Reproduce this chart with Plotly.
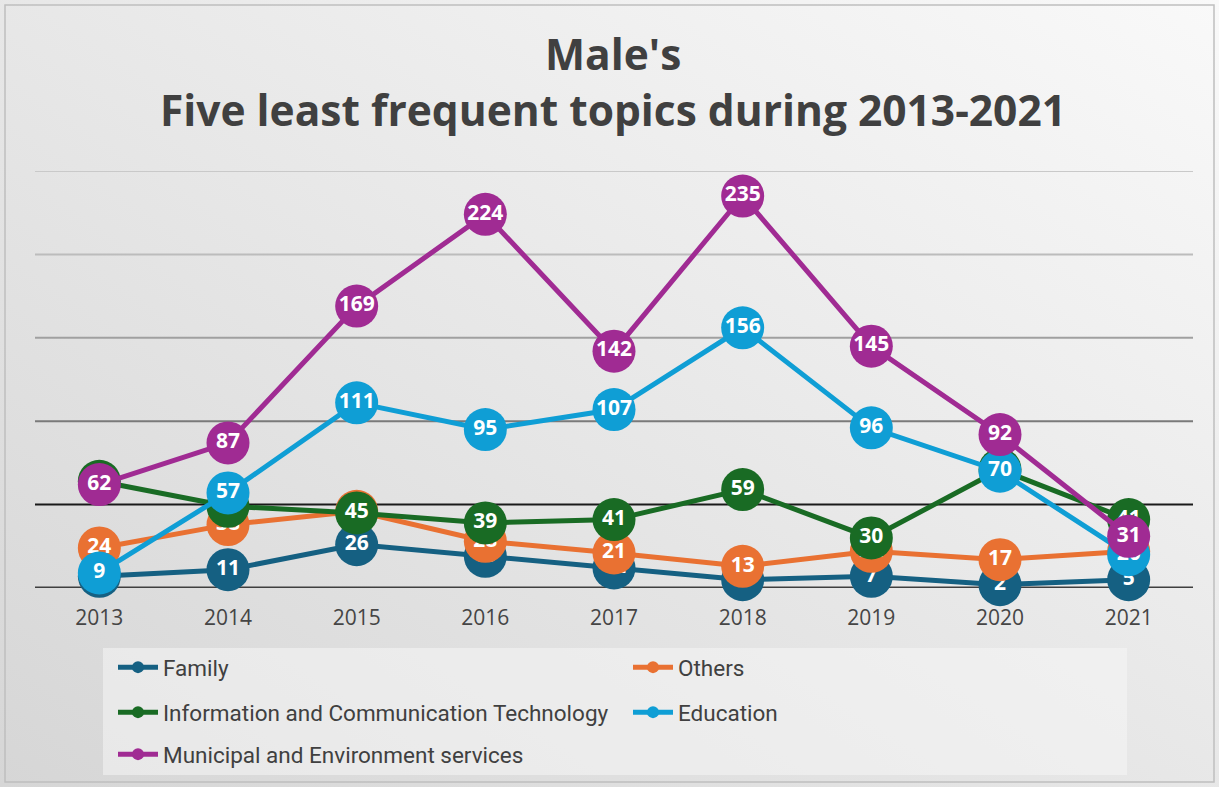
import plotly.graph_objects as go

years = ["2013", "2014", "2015", "2016", "2017", "2018", "2019", "2020", "2021"]
family = [7, 11, 26, 19, 12, 5, 7, 2, 5]
others = [24, 38, 46, 28, 21, 13, 22, 17, 22]
ict = [64, 49, 45, 39, 41, 59, 30, 71, 41]
education = [9, 57, 111, 95, 107, 156, 96, 70, 20]
municipal = [62, 87, 169, 224, 142, 235, 145, 92, 31]

series = [
    ("Family", family, "#156082", "legend"),
    ("Others", others, "#E97132", "legend"),
    ("Information and Communication Technology", ict, "#196B24", "legend2"),
    ("Education", education, "#0F9ED5", "legend2"),
    ("Municipal and Environment services", municipal, "#A02B93", "legend3"),
]

W, H = 1219, 787
L, R, T, B = 35, 26, 171, 199
pw, ph = W - L - R, H - T - B


def py(ypix):
    return 1 + (T - ypix) / ph


def px(xpix):
    return (xpix - L) / pw


fig = go.Figure()
for name, vals, col, lg in series:
    fig.add_trace(go.Scatter(
        x=years, y=vals, mode="lines+markers+text", name=name,
        line=dict(color=col, width=5),
        marker=dict(size=43, color=col),
        text=[str(v) for v in vals], textposition="middle center",
        textfont=dict(color="white", size=21, family="Open Sans", weight="bold"),
        cliponaxis=False, showlegend=False, hoverinfo="skip",
    ))
for name, vals, col, lg in series:
    fig.add_trace(go.Scatter(
        x=[None], y=[None], mode="lines+markers", name=name,
        line=dict(color=col, width=5), marker=dict(size=12, color=col),
        showlegend=True, legend=lg,
    ))

svg = ("data:image/svg+xml;utf8,<svg xmlns='http://www.w3.org/2000/svg' width='1219' height='787'>"
       "<defs><linearGradient id='g' x1='1' y1='0' x2='0' y2='1'>"
       "<stop offset='0' stop-color='%23f9f9f9'/><stop offset='1' stop-color='%23d6d6d6'/>"
       "</linearGradient></defs><rect width='1219' height='787' fill='url(%23g)'/></svg>")
fig.add_layout_image(dict(
    source=svg, xref="paper", yref="paper",
    x=-L / pw, y=1 + T / ph, sizex=W / pw, sizey=H / ph,
    sizing="stretch", layer="below", xanchor="left", yanchor="top",
))

shapes = []
grid = [(250, "#c9c9c9", 2), (200, "#bcbcbc", 2), (150, "#a0a0a0", 2),
        (100, "#7a7a7a", 2), (50, "#1a1a1a", 2), (0, "#3f3f3f", 3)]
for yv, c, w in grid:
    shapes.append(dict(type="line", xref="paper", yref="y", x0=0, x1=1, y0=yv, y1=yv,
                       line=dict(color=c, width=w), layer="below"))
shapes.append(dict(type="rect", xref="paper", yref="paper",
                   x0=px(103), x1=px(1127), y0=py(775), y1=py(648),
                   fillcolor="rgba(245,245,245,0.55)", line=dict(width=0), layer="below"))
shapes.append(dict(type="rect", xref="paper", yref="paper",
                   x0=px(5), x1=px(1214), y0=py(782), y1=py(5),
                   line=dict(color="#bfbfbf", width=1.5), layer="below"))

title_font = dict(family="Open Sans", size=42.5, color="#404040", weight="bold")
annotations = [
    dict(text="Male's", xref="paper", yref="paper", x=px(613), y=py(54),
         xanchor="center", yanchor="middle", showarrow=False, font=title_font),
    dict(text="Five least frequent topics during 2013-2021", xref="paper", yref="paper",
         x=px(613), y=py(109), xanchor="center", yanchor="middle", showarrow=False,
         font=title_font),
]

leg_font = dict(family="Roboto", size=22.5, color="#404040")


def leg(ypix):
    return dict(orientation="h", xref="container", yref="container",
                x=113 / W, y=1 - (ypix - 22) / H, xanchor="left", yanchor="top",
                entrywidth=460, entrywidthmode="pixels", font=leg_font,
                bgcolor="rgba(0,0,0,0)", itemwidth=40)


fig.update_layout(
    width=W, height=H,
    margin=dict(l=L, r=R, t=T, b=B),
    paper_bgcolor="#e6e6e6", plot_bgcolor="rgba(0,0,0,0)",
    shapes=shapes, annotations=annotations,
    xaxis=dict(type="category", showgrid=False, zeroline=False, showline=False,
               tickfont=dict(family="Open Sans", size=21, color="#454545"), ticks="",
               ticklabelstandoff=15, range=[-0.5, 8.5], fixedrange=True),
    yaxis=dict(range=[0, 250], showgrid=False, zeroline=False, showticklabels=False,
               fixedrange=True),
    legend=leg(668), legend2=leg(713), legend3=leg(755),
    showlegend=True,
)

fig.write_html("out.html", config={"displayModeBar": False},
               post_script="document.body.style.margin='0';")
